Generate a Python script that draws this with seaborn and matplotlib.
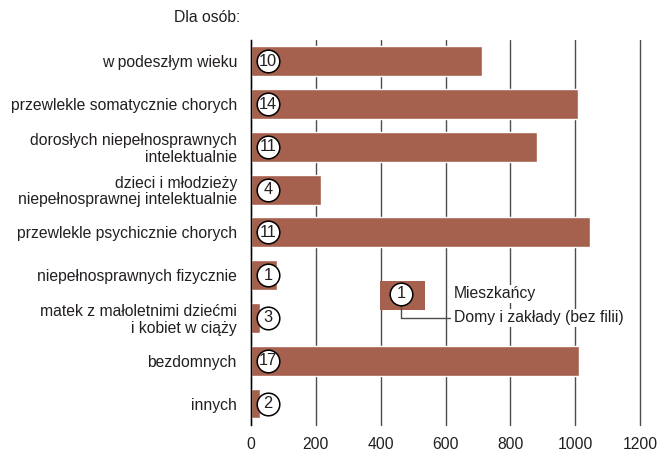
import matplotlib
matplotlib.use("Agg")
import matplotlib.pyplot as plt
import pandas as pd
import seaborn as sns
from matplotlib.patches import Rectangle
from matplotlib.lines import Line2D
import matplotlib.transforms as mtransforms


# -------------------------------------------------
# DATA
# -------------------------------------------------
categories = [
    "w podeszłym wieku",
    "przewlekle somatycznie chorych",
    "dorosłych niepełnosprawnych\nintelektualnie",
    "dzieci i młodzieży\nniepełnosprawnej intelektualnie",
    "przewlekle psychicznie chorych",
    "niepełnosprawnych fizycznie",
    "matek z małoletnimi dziećmi\ni kobiet w ciąży",
    "bezdomnych",
    "innych",
]
residents = [711, 1008, 881, 217, 1045, 80, 29, 1011, 29]
facilities = [10, 14, 11, 4, 11, 1, 3, 17, 2]
x_ticks = [0, 200, 400, 600, 800, 1000, 1200]

BAR_COLOR = "#a6604e"
TEXT_COLOR = "#231f20"
GRID_COLOR = "#4d4d4d"
FS = 11.3

df = pd.DataFrame({"category": categories, "residents": residents,
                   "facilities": facilities})


# -------------------------------------------------
# PLOT
# -------------------------------------------------
sns.set_style("white")
plt.rcParams["font.family"] = ["Liberation Sans", "DejaVu Sans"]

fig = plt.figure(figsize=(6.6, 4.53), dpi=100)
ax = fig.add_axes([0.380, 0.062, 0.590, 0.850])

sns.barplot(data=df, x="residents", y="category", orient="h",
            color=BAR_COLOR, saturation=1, width=0.7, ax=ax, zorder=3)

ax.set_xlim(0, 1200)
ax.set_ylim(len(categories) - 0.5, -0.5)
ax.set_xticks(x_ticks)
ax.set_xticklabels([str(t) for t in x_ticks])
ax.set_xlabel("")
ax.set_ylabel("")

ax.grid(axis="x", color=GRID_COLOR, linewidth=1.0, zorder=0)
ax.grid(axis="y", visible=False)
for gl in ax.get_xgridlines():
    gl.set_clip_on(False)
for side in ["top", "right", "bottom"]:
    ax.spines[side].set_visible(False)
ax.spines["left"].set_color("black")
ax.spines["left"].set_linewidth(1.0)
ax.spines["left"].set_zorder(5)

ax.tick_params(axis="x", length=0, labelsize=FS, colors=TEXT_COLOR, pad=9)
ax.tick_params(axis="y", length=0, labelsize=FS, colors=TEXT_COLOR, pad=10)
for lbl in ax.get_yticklabels():
    lbl.set_multialignment("right")
    lbl.set_linespacing(1.1)

# number of facilities in white circles
trans = mtransforms.blended_transform_factory(ax.transAxes, ax.transData)
for i, n in enumerate(facilities):
    ax.scatter([0.0437], [i], s=265, color="white", edgecolor="black",
               linewidth=1.1, transform=trans, zorder=6, clip_on=False)
    ax.text(0.0437, i, str(n), transform=trans, ha="center", va="center",
            fontsize=FS + 0.5, color=TEXT_COLOR, zorder=7)

# header
fig.text(240 / 660, 1 - 18 / 453, "Dla osób:", ha="right", va="center",
         fontsize=FS, color=TEXT_COLOR)

# custom legend
ax.add_patch(Rectangle((0.332, 0.299), 0.115, 0.075, transform=ax.transAxes,
                       facecolor=BAR_COLOR, edgecolor="none", zorder=4))
ax.add_line(Line2D([0.386, 0.386, 0.512], [0.31, 0.278, 0.278],
                   transform=ax.transAxes, color=GRID_COLOR, linewidth=1.0,
                   zorder=5))
ax.scatter([0.386], [0.340], s=265, color="white", edgecolor="black",
           linewidth=1.1, transform=ax.transAxes, zorder=6)
ax.text(0.386, 0.340, "1", transform=ax.transAxes, ha="center", va="center",
        fontsize=FS + 0.5, color=TEXT_COLOR, zorder=7)
ax.text(0.522, 0.340, "Mieszkańcy", transform=ax.transAxes, ha="left",
        va="center", fontsize=FS, color=TEXT_COLOR, zorder=7,
        bbox=dict(facecolor="white", edgecolor="none", pad=1))
ax.text(0.522, 0.278, "Domy i zakłady (bez filii)", transform=ax.transAxes,
        ha="left", va="center", fontsize=FS, color=TEXT_COLOR, zorder=7,
        bbox=dict(facecolor="white", edgecolor="none", pad=1))

plt.savefig("out.png", dpi=100)
